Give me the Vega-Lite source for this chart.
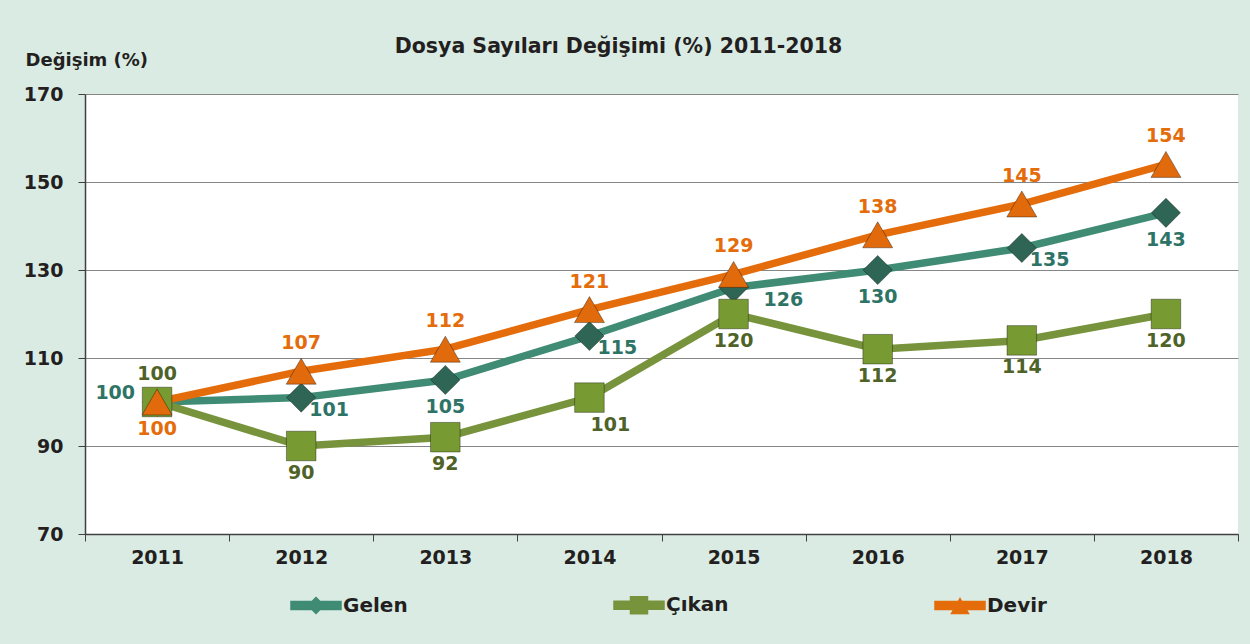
{
  "$schema": "https://vega.github.io/schema/vega-lite/v6.json",
  "width": 1153,
  "height": 440,
  "autosize": {"type": "none"},
  "padding": {"left": 85, "top": 94, "right": 12, "bottom": 110},
  "background": "#DAEBE4",
  "config": {
    "view": {"fill": "white", "stroke": null},
    "font": "DejaVu Sans"
  },
  "title": {
    "text": "Dosya Sayıları Değişimi (%) 2011-2018",
    "anchor": "middle",
    "frame": "group",
    "dx": -43,
    "dy": 36,
    "fontSize": 20.5,
    "fontWeight": "bold",
    "color": "#231F20",
    "font": "DejaVu Sans",
    "offset": 30
  },
  "data": {
    "values": [
      {"year": "2011", "series": "Gelen", "value": 100, "pos": "left"},
      {"year": "2012", "series": "Gelen", "value": 101, "pos": "right"},
      {"year": "2013", "series": "Gelen", "value": 105, "pos": "below"},
      {"year": "2014", "series": "Gelen", "value": 115, "pos": "right"},
      {"year": "2015", "series": "Gelen", "value": 126, "pos": "farright"},
      {"year": "2016", "series": "Gelen", "value": 130, "pos": "below"},
      {"year": "2017", "series": "Gelen", "value": 135, "pos": "right"},
      {"year": "2018", "series": "Gelen", "value": 143, "pos": "below"},
      {"year": "2011", "series": "Çıkan", "value": 100, "pos": "above"},
      {"year": "2012", "series": "Çıkan", "value": 90, "pos": "below"},
      {"year": "2013", "series": "Çıkan", "value": 92, "pos": "below"},
      {"year": "2014", "series": "Çıkan", "value": 101, "pos": "belowright"},
      {"year": "2015", "series": "Çıkan", "value": 120, "pos": "below"},
      {"year": "2016", "series": "Çıkan", "value": 112, "pos": "below"},
      {"year": "2017", "series": "Çıkan", "value": 114, "pos": "below"},
      {"year": "2018", "series": "Çıkan", "value": 120, "pos": "below"},
      {"year": "2011", "series": "Devir", "value": 100, "pos": "below"},
      {"year": "2012", "series": "Devir", "value": 107, "pos": "above"},
      {"year": "2013", "series": "Devir", "value": 112, "pos": "above"},
      {"year": "2014", "series": "Devir", "value": 121, "pos": "above"},
      {"year": "2015", "series": "Devir", "value": 129, "pos": "above"},
      {"year": "2016", "series": "Devir", "value": 138, "pos": "above"},
      {"year": "2017", "series": "Devir", "value": 145, "pos": "above"},
      {"year": "2018", "series": "Devir", "value": 154, "pos": "above"}
    ]
  },
  "encoding": {
    "x": {
      "field": "year",
      "type": "ordinal",
      "scale": {"type": "band", "paddingInner": 0, "paddingOuter": 0},
      "axis": {
        "title": null,
        "labelAngle": 0,
        "labelFont": "DejaVu Sans",
        "labelFontSize": 19,
        "labelFontWeight": "bold",
        "labelColor": "#231F20",
        "labelPadding": 7,
        "tickBand": "extent",
        "tickSize": 7,
        "tickColor": "#404040",
        "domainColor": "#404040",
        "domainWidth": 1.5,
        "grid": false
      }
    },
    "y": {
      "field": "value",
      "type": "quantitative",
      "scale": {"domain": [70, 170], "nice": false, "zero": false},
      "axis": {
        "values": [70, 90, 110, 130, 150, 170],
        "title": "Değişim (%)",
        "titleAngle": 0,
        "titleX": -60,
        "titleY": -34,
        "titleAlign": "left",
        "titleBaseline": "middle",
        "titleFont": "DejaVu Sans",
        "titleFontSize": 18,
        "titleFontWeight": "bold",
        "titleColor": "#231F20",
        "labelFont": "DejaVu Sans",
        "labelFontSize": 19,
        "labelFontWeight": "bold",
        "labelColor": "#231F20",
        "labelPadding": 15,
        "tickSize": 7,
        "tickColor": "#404040",
        "domainColor": "#404040",
        "domainWidth": 1.5,
        "grid": true,
        "gridColor": "#868686",
        "gridWidth": 1.2
      }
    }
  },
  "layer": [
    {
      "mark": {"type": "line", "strokeWidth": 7.5, "strokeCap": "round"},
      "encoding": {
        "color": {
          "field": "series",
          "type": "nominal",
          "scale": {"domain": ["Gelen", "Çıkan", "Devir"], "range": ["#3F8B74", "#77933C", "#E46C0A"]},
          "legend": {
            "title": null,
            "orient": "none",
            "legendX": 205,
            "legendY": 485,
            "direction": "horizontal",
            "columns": 3,
            "columnPadding": 203,
            "symbolSize": 2500,
            "labelFont": "DejaVu Sans",
            "labelFontSize": 20,
            "labelFontWeight": "bold",
            "labelColor": "#231F20",
            "labelOffset": 1,
            "encode": {
              "symbols": {
                "update": {
                  "shape": {"signal": "datum.value === 'Gelen' ? 'M-1,-0.16H-0.16L0,-0.32L0.16,-0.16H1V0.16H0.16L0,0.32L-0.16,0.16H-1Z' : datum.value === 'Devir' ? 'M-1,-0.16H-0.068L0,-0.28L0.068,-0.16H1V0.16H0.249L0.34,0.32H-0.34L-0.249,0.16H-1Z' : 'M-1,-0.16H-0.34V-0.34H0.34V-0.16H1V0.16H0.34V0.34H-0.34V0.16H-1Z'"},
                  "fill": {"signal": "datum.value === 'Gelen' ? '#3F8B74' : datum.value === 'Devir' ? '#E46C0A' : '#77933C'"},
                  "stroke": {"value": "transparent"},
                  "opacity": {"value": 1}
                }
              }
            }
          }
        }
      }
    },
    {
      "mark": {"type": "point", "filled": true, "opacity": 1, "stroke": "#000000", "strokeOpacity": 0.35, "strokeWidth": 1},
      "encoding": {
        "color": {
          "field": "series",
          "type": "nominal",
          "scale": {"domain": ["Gelen", "Çıkan", "Devir"], "range": ["#2E6555", "#789A33", "#E06A0C"]},
          "legend": null
        },
        "shape": {
          "field": "series",
          "type": "nominal",
          "scale": {"domain": ["Gelen", "Çıkan", "Devir"], "range": ["diamond", "square", "triangle-up"]},
          "legend": null
        },
        "size": {
          "field": "series",
          "type": "nominal",
          "scale": {"domain": ["Gelen", "Çıkan", "Devir"], "range": [850, 900, 1100]},
          "legend": null
        }
      }
    },
    {
      "transform": [{"filter": "datum.pos === 'above'"}],
      "mark": {"type": "text", "dy": -28, "align": "center", "baseline": "middle", "fontSize": 19, "fontWeight": "bold", "font": "DejaVu Sans"},
      "encoding": {
        "text": {"field": "value", "type": "quantitative"},
        "color": {"field": "series", "type": "nominal", "scale": {"domain": ["Gelen", "Çıkan", "Devir"], "range": ["#2E7466", "#4F6228", "#E46C0A"]}, "legend": null}
      }
    },
    {
      "transform": [{"filter": "datum.pos === 'below'"}],
      "mark": {"type": "text", "dy": 27, "align": "center", "baseline": "middle", "fontSize": 19, "fontWeight": "bold", "font": "DejaVu Sans"},
      "encoding": {
        "text": {"field": "value", "type": "quantitative"},
        "color": {"field": "series", "type": "nominal", "scale": {"domain": ["Gelen", "Çıkan", "Devir"], "range": ["#2E7466", "#4F6228", "#E46C0A"]}, "legend": null}
      }
    },
    {
      "transform": [{"filter": "datum.pos === 'left'"}],
      "mark": {"type": "text", "dx": -22, "dy": -9, "align": "right", "baseline": "middle", "fontSize": 19, "fontWeight": "bold", "font": "DejaVu Sans"},
      "encoding": {
        "text": {"field": "value", "type": "quantitative"},
        "color": {"field": "series", "type": "nominal", "scale": {"domain": ["Gelen", "Çıkan", "Devir"], "range": ["#2E7466", "#4F6228", "#E46C0A"]}, "legend": null}
      }
    },
    {
      "transform": [{"filter": "datum.pos === 'right'"}],
      "mark": {"type": "text", "dx": 8, "dy": 12, "align": "left", "baseline": "middle", "fontSize": 19, "fontWeight": "bold", "font": "DejaVu Sans"},
      "encoding": {
        "text": {"field": "value", "type": "quantitative"},
        "color": {"field": "series", "type": "nominal", "scale": {"domain": ["Gelen", "Çıkan", "Devir"], "range": ["#2E7466", "#4F6228", "#E46C0A"]}, "legend": null}
      }
    },
    {
      "transform": [{"filter": "datum.pos === 'farright'"}],
      "mark": {"type": "text", "dx": 30, "dy": 12, "align": "left", "baseline": "middle", "fontSize": 19, "fontWeight": "bold", "font": "DejaVu Sans"},
      "encoding": {
        "text": {"field": "value", "type": "quantitative"},
        "color": {"field": "series", "type": "nominal", "scale": {"domain": ["Gelen", "Çıkan", "Devir"], "range": ["#2E7466", "#4F6228", "#E46C0A"]}, "legend": null}
      }
    },
    {
      "transform": [{"filter": "datum.pos === 'belowright'"}],
      "mark": {"type": "text", "dx": 21, "dy": 27, "align": "center", "baseline": "middle", "fontSize": 19, "fontWeight": "bold", "font": "DejaVu Sans"},
      "encoding": {
        "text": {"field": "value", "type": "quantitative"},
        "color": {"field": "series", "type": "nominal", "scale": {"domain": ["Gelen", "Çıkan", "Devir"], "range": ["#2E7466", "#4F6228", "#E46C0A"]}, "legend": null}
      }
    }
  ],
  "resolve": {"scale": {"color": "independent", "shape": "independent", "size": "independent"}}
}
